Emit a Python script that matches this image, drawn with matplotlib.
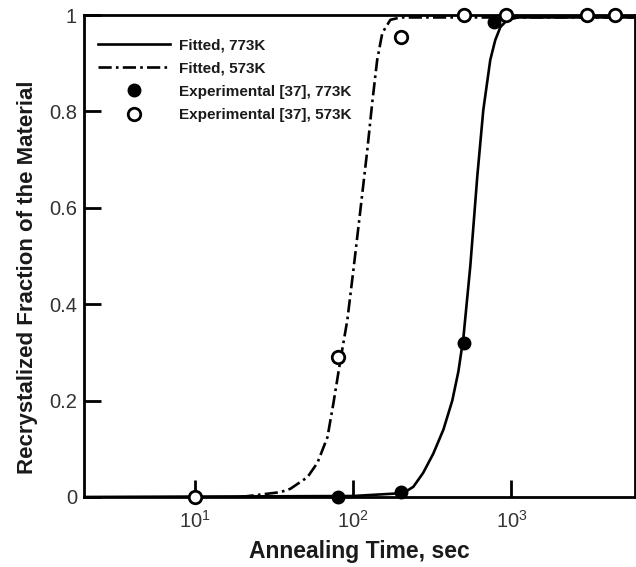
import matplotlib
matplotlib.use("Agg")
import matplotlib.pyplot as plt

plt.rcParams['font.family'] = ['Liberation Sans', 'DejaVu Sans']

# fitted curve, 773K
fit773_t = [2, 100, 207, 240, 277, 321, 372, 423, 462, 497, 550, 608, 664, 735, 790, 851, 942, 1100, 6000]
fit773_f = [0.0, 0.002, 0.008, 0.021, 0.05, 0.09, 0.14, 0.2, 0.26, 0.33, 0.48, 0.664, 0.803, 0.907, 0.948, 0.975, 0.99, 0.995, 0.995]

# fitted curve, 573K
fit573_t = [19.5, 34.8, 40.2, 51.5, 59.6, 68.9, 75.2, 83.2, 92.0, 100.4, 111.2, 123, 132, 142, 153, 172, 199, 6000]
fit573_f = [0.0, 0.01, 0.017, 0.041, 0.071, 0.124, 0.195, 0.284, 0.367, 0.47, 0.595, 0.72, 0.817, 0.907, 0.963, 0.99, 0.995, 0.995]

# experimental points [37]
exp773_t = [80, 200, 500, 780]
exp773_f = [0.0, 0.01, 0.32, 0.985]
exp573_t = [10, 80, 200, 500, 930, 3000, 4500]
exp573_f = [0.0, 0.29, 0.955, 1.0, 1.0, 1.0, 1.0]

fig = plt.figure(figsize=(6.36, 5.67), dpi=100)
ax = fig.add_axes([0.132, 0.1235, 0.866, 0.85])

ax.plot(fit773_t, fit773_f, color='black', lw=1.9, label='Fitted, 773K')
ax.plot(fit573_t, fit573_f, color='black', lw=1.9, dashes=(5, 1.6, 1, 1.6), label='Fitted, 573K')
ax.plot(exp773_t, exp773_f, 'o', color='black', ms=9, label='Experimental [37], 773K', clip_on=False, zorder=4)
ax.plot(exp573_t, exp573_f, 'o', mfc='white', mec='black', mew=2, ms=9, label='Experimental [37], 573K', clip_on=False, zorder=5)

ax.set_xscale('log')
ax.set_xlim(2, 6000)
ax.set_ylim(0, 1)
ax.set_xticks([10, 100, 1000])
ax.set_xticklabels([r'$\mathregular{10^1}$', r'$\mathregular{10^2}$', r'$\mathregular{10^3}$'])
ax.minorticks_off()
ax.set_yticks([0, 0.2, 0.4, 0.6, 0.8, 1])
ax.set_yticklabels(['0', '0.2', '0.4', '0.6', '0.8', '1'])
ax.tick_params(direction='in', length=12, width=2, labelsize=14.5, labelcolor='#333333')
ax.tick_params(axis='y', pad=5)
ax.tick_params(axis='x', pad=9)

for s in ax.spines.values():
    s.set_linewidth(2)

ax.set_xlabel('Annealing Time, sec', fontsize=16.5, fontweight='bold', color='#1a1a1a', labelpad=6)
ax.set_ylabel('Recrystalized Fraction of the Material', fontsize=16, fontweight='bold', color='#1a1a1a')
ax.yaxis.set_label_coords(-0.084, 0.455)

leg = ax.legend(loc='upper left', bbox_to_anchor=(0.0, 0.98), frameon=False,
                handlelength=4.7, handletextpad=0.65, labelspacing=0.6,
                prop={'size': 11, 'weight': 'bold'})
for t in leg.get_texts():
    t.set_color('#1a1a1a')

fig.savefig('out.png', dpi=100)
